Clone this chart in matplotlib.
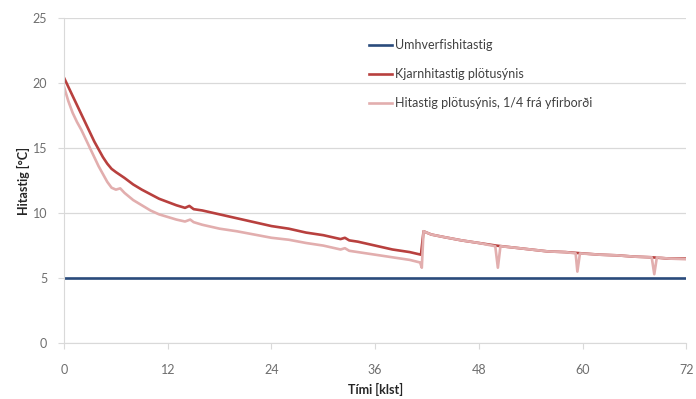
import matplotlib
matplotlib.use("Agg")
import matplotlib.pyplot as plt

plt.rcParams['font.family'] = ['Lato', 'DejaVu Sans']

# Umhverfishitastig (constant ambient temperature)
ambient_t = [0, 72]
ambient_v = [5.0, 5.0]

# Kjarnhitastig plötusýnis
core_t = [0, 0.5, 1, 1.5, 2, 2.5, 3, 3.5, 4, 4.5, 5, 5.5, 6, 7, 8, 9, 10, 11, 12, 13, 14, 14.5, 15, 16,
          18, 20, 22, 24, 26, 28, 30, 32, 32.5, 33, 34, 36, 38, 40, 41.3, 41.6,
          42.5, 44, 46, 48, 50, 52, 54, 56, 58, 60, 62, 64, 66, 68, 70, 72]
core_v = [20.4, 19.7, 19.0, 18.3, 17.6, 16.9, 16.2, 15.5, 14.9, 14.3, 13.8, 13.4, 13.15, 12.7, 12.2, 11.8, 11.45, 11.1, 10.85, 10.6, 10.4, 10.55, 10.3, 10.2,
          9.9, 9.6, 9.3, 9.0, 8.8, 8.5, 8.3, 8.0, 8.1, 7.9, 7.8, 7.5, 7.2, 7.0, 6.8, 8.6,
          8.35, 8.15, 7.9, 7.7, 7.5, 7.35, 7.2, 7.05, 7.0, 6.9, 6.8, 6.75, 6.65, 6.6, 6.5, 6.5]

# Hitastig plötusýnis, 1/4 frá yfirborði
quarter_t = [0, 0.5, 1, 1.5, 2, 2.5, 3, 3.5, 4, 4.5, 5, 5.5, 6, 6.5, 7, 8, 9, 10, 11, 12, 13, 14, 14.6, 15, 16,
             18, 20, 22, 24, 26, 28, 30, 32, 32.5, 33, 34, 36, 38, 40, 41.2, 41.4, 41.6,
             42.5, 44, 46, 48, 49.9, 50.2, 50.5, 52, 54, 56, 58, 59.2, 59.4, 59.7,
             62, 64, 66, 68.0, 68.3, 68.6, 70, 72]
quarter_v = [19.7, 18.6, 17.7, 17.0, 16.4, 15.7, 15.0, 14.3, 13.6, 13.0, 12.4, 11.95, 11.8, 11.9, 11.55, 11.0, 10.6, 10.2, 9.9, 9.7, 9.5, 9.35, 9.5, 9.3, 9.1,
             8.8, 8.6, 8.35, 8.1, 7.95, 7.7, 7.5, 7.2, 7.3, 7.1, 7.0, 6.8, 6.6, 6.4, 6.2, 5.8, 8.6,
             8.35, 8.15, 7.9, 7.7, 7.45, 5.8, 7.45, 7.35, 7.2, 7.05, 7.0, 6.9, 5.5, 6.9,
             6.8, 6.75, 6.65, 6.6, 5.3, 6.6, 6.5, 6.45]

x_ticks = [0, 12, 24, 36, 48, 60, 72]
y_ticks = [0, 5, 10, 15, 20, 25]

fig = plt.figure(figsize=(6.96, 3.99), dpi=100)
ax = fig.add_axes([0.092, 0.140, 0.894, 0.815])

ax.plot(ambient_t, ambient_v, color='#2A4B7C', lw=1.9, label='Umhverfishitastig')
ax.plot(core_t, core_v, color='#B8403E', lw=1.9, label='Kjarnhitastig plötusýnis')
ax.plot(quarter_t, quarter_v, color='#E2AEAE', lw=1.9, label='Hitastig plötusýnis, 1/4 frá yfirborði')

ax.set_xlim(0, 72)
ax.set_ylim(0, 25)
ax.set_xticks(x_ticks)
ax.set_yticks(y_ticks)
ax.grid(axis='y', color='#D9D9D9', lw=0.9)
ax.set_axisbelow(True)
for side in ['top', 'right']:
    ax.spines[side].set_visible(False)
for side in ['left', 'bottom']:
    ax.spines[side].set_color('#D9D9D9')
ax.tick_params(colors='#D9D9D9', labelcolor='#6E6E6E', labelsize=9, length=4)
ax.tick_params(axis='x', pad=11)
ax.tick_params(axis='y', pad=8)

ax.set_xlabel('Tími [klst]', fontsize=9, fontweight='bold', color='#262626', labelpad=5)
ax.set_ylabel('Hitastig [°C]', fontsize=9, fontweight='bold', color='#262626', labelpad=2)

fig.legend(loc='upper left', bbox_to_anchor=(0.5216, 0.917), frameon=False, fontsize=9,
           labelspacing=1.35, handlelength=1.8, handletextpad=0.25, borderpad=0,
           labelcolor='#404040')

fig.savefig('out.png', dpi=100)
